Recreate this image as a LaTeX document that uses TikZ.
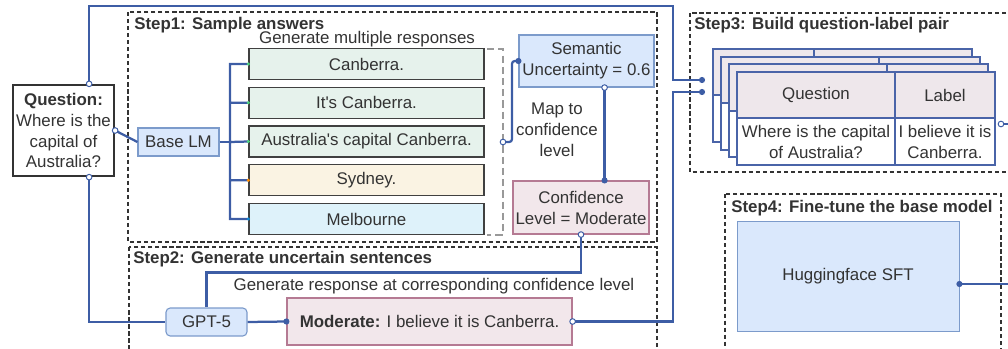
\documentclass[tikz,border=0pt]{standalone}
\usepackage{fontspec}
\setmainfont{Liberation Sans}[Ligatures=TeXOff]
\usepackage{xcolor}
\usepackage{tikz}
\usetikzlibrary{positioning,arrows.meta}
\definecolor{ink}{HTML}{333333}
\definecolor{linkblue}{HTML}{3D5DA5}
\definecolor{lmfill}{HTML}{DAE8FC}
\definecolor{lmedge}{HTML}{7C9BCB}
\definecolor{confill}{HTML}{F2E7EB}
\definecolor{conedge}{HTML}{B57A93}
\definecolor{greenfill}{HTML}{E6F2EC}
\definecolor{sandfill}{HTML}{FAF3E3}
\definecolor{skyfill}{HTML}{DEF2FA}
\definecolor{headfill}{HTML}{EEE7EB}
\definecolor{tblblue}{HTML}{4A64A8}
\newcommand\dfont{\fontsize{12}{14.9}\selectfont}

\begin{document}
\begin{tikzpicture}[x=0.025cm, y=-0.025cm,
  every node/.style={font=\dfont, text=ink},
  stepframe/.style={draw=ink, line width=0.8pt, dash pattern=on 3pt off 2pt},
  steptitle/.style={font=\dfont\bfseries, anchor=west, inner sep=0pt},
  box/.style={rectangle, inner sep=0pt, align=center, line width=0.8pt},
  resp/.style={box, draw=black!75, minimum width=5.875cm, minimum height=0.775cm},
  lmbox/.style={box, draw=lmedge, fill=lmfill},
  conbox/.style={box, draw=conedge, fill=confill},
  cell/.style={box, draw=tblblue, line width=1.5pt},
  layer/.style={draw=tblblue, line width=1.5pt},
  link/.style={draw=linkblue, line width=1.6pt},
  bracket/.style={draw=black!40, line width=1.1pt, dash pattern=on 5pt off 3pt},
  odot/.style={draw=linkblue, fill=white, line width=0.7pt},
  fdot/.style={fill=linkblue}
]
\useasboundingbox (0,0) rectangle (1008,349);

% step frames
\draw[stepframe] (128,12) rectangle (657,242);
\draw[stepframe] (129,247) rectangle (657,360);
\draw[stepframe] (690,13) rectangle (1030,172);
\draw[stepframe] (725,194) rectangle (1001,360);
\node[steptitle] (step1) at (134,25)  {Step1: Sample answers};
\node[steptitle] (step2) at (133,259) {Step2: Generate uncertain sentences};
\node[steptitle] (step3) at (694,25)  {Step3: Build question-label pair};
\node[steptitle] (step4) at (731,208) {Step4: Fine-tune the base model};

% question and sampling
\node[box, draw=ink, line width=1.6pt, fill=white, minimum width=2.525cm,
      minimum height=2.275cm] (question) at (63.5,130.5)
  {\textbf{Question:}\\Where is the\\capital of\\Australia?};
\node[lmbox, minimum width=2.025cm, minimum height=0.7cm] (baselm) at (178.5,142) {Base LM};
\node (genmulti) at (367,39) {Generate multiple responses};
\node[resp, fill=greenfill] (r1) at (366.5,64)     {Canberra.};
\node[resp, fill=greenfill] (r2) at (366.5,102.75) {It's Canberra.};
\node[resp, fill=greenfill] (r3) at (366.5,141.5)  {Australia's capital Canberra.};
\node[resp, fill=sandfill]  (r4) at (366.5,180.25) {Sydney.};
\node[resp, fill=skyfill]   (r5) at (366.5,219)    {Melbourne};
\draw[bracket] (487,49) -- (503,49) -- (503,235) -- (487,235);
\coordinate (brk) at (503,142);

\node[lmbox, minimum width=3.375cm, minimum height=1.3cm] (sem) at (586.5,61)
  {Semantic\\Uncertainty = 0.6};
\node[align=center, inner sep=0pt] (maplbl) at (557,130) {Map to\\confidence\\level};
\node[conbox, minimum width=3.4cm, minimum height=1.325cm] (conf) at (581,207.5)
  {Confidence\\Level = Moderate};

% uncertain sentence
\node (genresp) at (434,286) {Generate response at corresponding confidence level};
\node[lmbox, rounded corners=3pt, minimum width=2.025cm, minimum height=0.7cm] (gpt) at (206.5,322) {GPT-5};
\node[conbox, minimum width=7.125cm, minimum height=1.175cm] (mod) at (429.5,321.5)
  {\textbf{Moderate:} I believe it is Canberra.};

% stacked question-label tables
\filldraw[layer, fill=white] (713,49) rectangle (972,142);
\filldraw[layer, fill=headfill] (713,49) rectangle (972,95);
\draw[layer] (814,49) -- (814,142);
\filldraw[layer, fill=white] (721,57) rectangle (980,150);
\filldraw[layer, fill=headfill] (721,57) rectangle (980,103);
\draw[layer] (879,57) -- (879,150);
\filldraw[layer, fill=white] (729,64) rectangle (988,157);
\filldraw[layer, fill=headfill] (729,64) rectangle (988,111);
\draw[layer] (887,64) -- (887,157);
\node[cell, fill=headfill, minimum width=3.95cm, minimum height=1.15cm] (qhead) at (816,95) {Question};
\node[cell, fill=headfill, minimum width=2.5cm, minimum height=1.15cm] (lhead) at (945,95) {Label};
\node[cell, fill=white, minimum width=3.95cm, minimum height=1.175cm] (qcell) at (816,141.5)
  {Where is the capital\\of Australia?};
\node[cell, fill=white, minimum width=2.5cm, minimum height=1.175cm] (lcell) at (945,141.5)
  {I believe it is\\Canberra.};

% fine-tuning
\node[lmbox, line width=0.6pt, minimum width=5.55cm, minimum height=2.75cm] (sft) at (848,276) {Huggingface SFT};

% connectors
\coordinate (qtop) at ([xshift=-0.65cm]question.north east);
\coordinate (qbot) at ([xshift=-0.65cm]question.south east);
\coordinate (ridge) at (673,6);
\coordinate (trunk) at (673,92);
\coordinate (inq) at (702,80);
\coordinate (inl) at (702,92);
\coordinate (bus) at (230,142);
\coordinate (semout) at ([xshift=-1.25cm]sem.south east);
\coordinate (tout) at (1001,124);
\coordinate (sftout) at ([yshift=-0.2cm]sft.east);
\draw[link] (qtop) |- (ridge) |- (inq);
\draw[link] (question.east) -- (baselm.west);
\draw[link] (qbot) |- (gpt.west);
\draw[link] (baselm.east) -- (bus);
\draw[link] (r1.west) -| (bus) (r2.west) -| (bus) (r3.west) -- (bus)
  (r4.west) -| (bus) (r5.west) -| (bus);
\draw[link, rounded corners=2pt] (brk) -- ++(9,0) |- (sem.west);
\draw[link] (semout) -- (semout |- conf.north);
\draw[link] (conf.south) |- ([yshift=0.875cm]gpt.north) -- (gpt.north);
\draw[link] (gpt.east) -- (mod.west);
\draw[link] (mod.east) -| (trunk) -- (inl);
\draw[link] (tout) -- ++(30,0);
\draw[link] (sftout) -- ++(60,0);

% ports
\fill[green!45!teal!70] (r1.west) circle (1.2pt) (r2.west) circle (1.2pt) (r3.west) circle (1.2pt);
\fill[orange!90!yellow] (r4.west) circle (1.2pt);
\fill[cyan!70!blue] (r5.west) circle (1.2pt);
\filldraw[odot] (qtop) circle (2pt) (qbot) circle (2pt) (question.east) circle (2pt)
  (brk) circle (2pt) (semout) circle (2pt) (conf.south) circle (2pt)
  (mod.east) circle (2pt) (tout) circle (2pt);
\fill[fdot] (sem.west) circle (2.2pt) (semout |- conf.north) circle (2.2pt)
  (mod.west) circle (2.2pt) (inq) circle (2.2pt) (inl) circle (2.2pt) (sftout) circle (2.2pt);
\end{tikzpicture}
\end{document}
